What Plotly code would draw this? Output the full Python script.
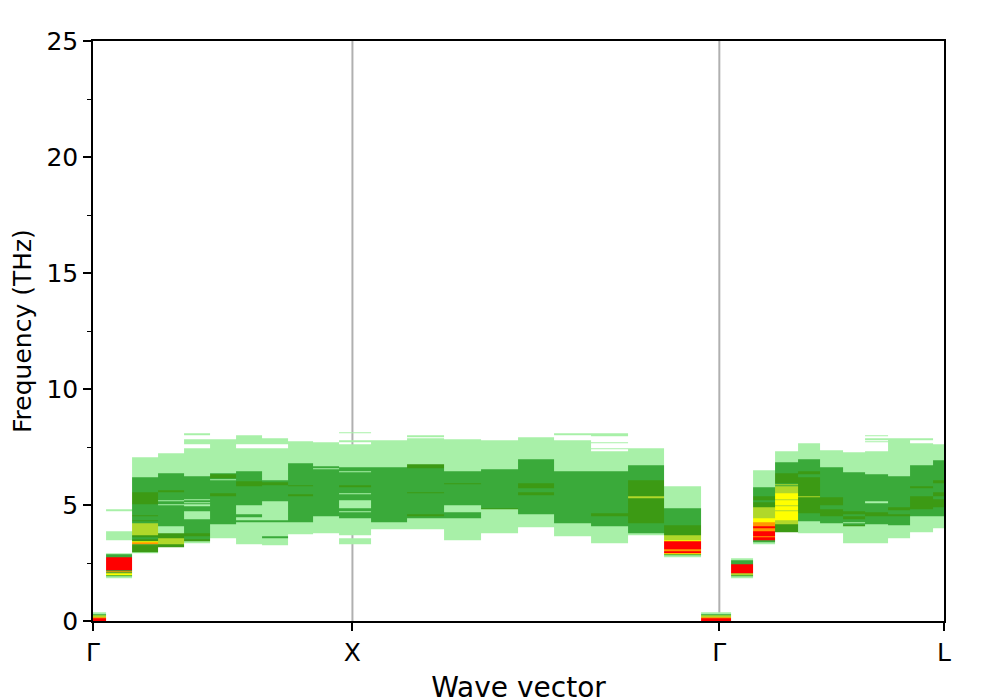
import numpy as np
import plotly.graph_objects as go

# fcc path Gamma-X-Gamma-L, segment lengths in units of 2*pi/a
SEGMENT_LENGTHS = [1.0, np.sqrt(2.0), np.sqrt(3.0) / 2.0]
POINTS_PER_SEGMENT = 10
TICK_LABELS = ["Γ", "X", "Γ", "L"]

# spectral-weight levels, weakest to strongest
LEVEL_COLORS = ["#a8f0a8", "#3aaa3a", "#3c9a14", "#b0d82a", "#ffff00", "#ff9900", "#ff0000"]

FREQ_STEP = 0.04
FREQ_MAX = 9.0

# each column: (low THz, high THz, level); later entries paint over earlier ones
GAMMA_BAND = [(0.0, 0.40, 1), (0.0, 0.30, 2), (0.0, 0.23, 4), (0.0, 0.17, 6), (0.0, 0.12, 7)]

BANDS_GX = [
    GAMMA_BAND,
    [(1.85, 2.93, 1), (1.90, 2.86, 2), (2.20, 2.77, 7), (2.10, 2.17, 6), (1.97, 2.03, 5),
     (3.49, 3.88, 1), (4.70, 4.78, 1)],
    [(2.90, 7.05, 1), (2.95, 6.19, 2), (5.04, 5.57, 3), (4.50, 4.57, 3), (4.30, 4.36, 3),
     (3.71, 4.21, 4), (3.60, 3.68, 3), (3.45, 3.52, 3), (3.38, 3.42, 5), (3.30, 3.38, 6),
     (2.95, 3.28, 3)],
    [(3.17, 7.23, 1), (3.20, 6.37, 2), (5.55, 5.62, 3), (5.15, 5.21, 1), (4.98, 5.04, 1),
     (3.78, 4.07, 1), (3.56, 3.78, 3), (3.30, 3.56, 4), (3.20, 3.30, 3)],
    [(3.35, 7.44, 1), (7.59, 7.83, 1), (8.00, 8.06, 1), (3.42, 6.22, 2), (5.18, 5.23, 1),
     (5.08, 5.12, 1), (4.97, 5.02, 1), (4.38, 4.72, 1), (3.64, 3.78, 3), (3.42, 3.50, 3)],
    [(3.56, 7.84, 1), (4.14, 6.37, 2), (6.15, 6.30, 3), (6.08, 6.13, 1), (5.40, 5.50, 3)],
    [(3.30, 7.44, 1), (7.62, 8.00, 1), (5.00, 6.44, 2), (5.80, 6.02, 3), (4.48, 4.58, 2),
     (4.28, 4.34, 2)],
    [(3.28, 7.44, 1), (7.58, 7.87, 1), (5.15, 6.08, 2), (5.82, 6.00, 3), (4.28, 4.34, 2),
     (3.55, 3.65, 2)],
    [(3.74, 7.76, 1), (4.22, 6.80, 2), (5.78, 5.85, 3), (5.38, 5.46, 3)],
    [(3.78, 7.73, 1), (4.50, 6.55, 2), (6.60, 6.66, 2), (4.22, 4.29, 2)],
    [(8.08, 8.12, 1), (7.70, 7.78, 1), (3.72, 7.61, 1), (3.31, 3.57, 1), (4.43, 6.65, 2),
     (6.38, 6.43, 1), (5.77, 5.83, 3), (5.47, 5.52, 1), (4.86, 5.20, 1), (4.68, 4.73, 1)],
]

BANDS_XG = [
    [(3.95, 7.80, 1), (4.28, 6.65, 2)],
    [(7.92, 8.02, 1), (3.95, 7.87, 1), (4.43, 6.77, 2), (6.60, 6.75, 3), (5.50, 5.56, 3),
     (4.52, 4.58, 3)],
    [(3.49, 7.58, 1), (7.63, 7.84, 1), (5.00, 6.42, 2), (5.87, 5.93, 3), (4.45, 4.66, 2)],
    [(3.78, 7.80, 1), (4.80, 6.55, 2), (4.80, 4.88, 3)],
    [(4.04, 7.92, 1), (4.60, 6.94, 2), (5.72, 5.90, 3), (5.42, 5.57, 3)],
    [(8.00, 8.09, 1), (3.62, 7.80, 1), (4.20, 6.45, 2)],
    [(7.97, 8.06, 1), (7.66, 7.73, 1), (7.38, 7.44, 1), (3.36, 7.32, 1), (4.06, 6.44, 2),
     (4.50, 4.62, 3)],
    [(3.70, 7.44, 1), (3.80, 6.72, 2), (4.18, 6.08, 3), (5.28, 5.39, 4)],
    [(2.75, 5.80, 1), (2.85, 4.86, 2), (3.70, 4.10, 3), (3.48, 3.70, 4), (3.44, 3.48, 5),
     (2.90, 3.44, 7), (3.00, 3.06, 6), (2.88, 2.92, 5)],
    GAMMA_BAND,
]

BANDS_GL = [
    [(1.82, 2.70, 1), (1.92, 2.63, 2), (2.06, 2.45, 7), (1.97, 2.02, 4)],
    [(3.30, 6.51, 1), (3.40, 5.76, 2), (4.93, 5.36, 3), (5.10, 5.18, 2), (4.43, 4.93, 4),
     (4.26, 4.43, 5), (3.88, 4.26, 6), (4.00, 4.06, 7), (3.49, 3.88, 7), (3.60, 3.64, 6)],
    [(3.82, 7.30, 1), (3.82, 6.84, 2), (5.94, 6.37, 3), (5.50, 5.80, 4), (5.82, 5.88, 4),
     (4.35, 5.50, 5), (5.20, 5.25, 4), (4.95, 5.00, 4), (4.70, 4.75, 4), (4.14, 4.35, 4),
     (3.82, 4.14, 3)],
    [(3.80, 7.66, 1), (4.30, 6.94, 2), (4.62, 6.44, 3), (6.20, 6.30, 2), (5.30, 5.38, 4)],
    [(3.78, 7.37, 1), (4.20, 6.65, 2), (5.00, 5.30, 3), (4.52, 4.80, 3)],
    [(3.35, 7.27, 1), (4.08, 6.39, 2), (4.60, 4.70, 3), (4.40, 4.50, 3), (4.20, 4.25, 1),
     (4.08, 4.13, 3)],
    [(7.94, 8.02, 1), (7.80, 7.87, 1), (7.70, 7.76, 1), (3.35, 7.30, 1), (4.14, 6.32, 2),
     (5.09, 5.14, 1), (4.50, 4.68, 3)],
    [(3.56, 7.87, 1), (4.13, 6.22, 2), (4.75, 4.92, 3), (4.50, 4.60, 3)],
    [(7.80, 7.86, 1), (3.85, 7.66, 1), (4.50, 6.72, 2), (5.72, 5.78, 3), (4.79, 5.35, 3)],
    [(4.00, 7.62, 1), (4.50, 6.90, 2), (5.94, 6.08, 3), (5.36, 5.57, 3), (4.93, 5.22, 3)],
]

FONT = "DejaVu Sans"

nodes = np.concatenate([[0.0], np.cumsum(SEGMENT_LENGTHS)])
kdist = [0.0]
for start, end in zip(nodes[:-1], nodes[1:]):
    kdist.extend(np.linspace(start, end, POINTS_PER_SEGMENT + 1)[1:].tolist())

columns = BANDS_GX + BANDS_XG + BANDS_GL
freq = np.arange(FREQ_STEP / 2, FREQ_MAX, FREQ_STEP)
z = [[None] * len(columns) for _ in freq]
for j, bands in enumerate(columns):
    for low, high, level in bands:
        for i, f in enumerate(freq):
            if low <= f < high:
                z[i][j] = level

n_levels = len(LEVEL_COLORS)
colorscale = []
for i, color in enumerate(LEVEL_COLORS):
    colorscale.append([i / n_levels, color])
    colorscale.append([(i + 1) / n_levels, color])

fig = go.Figure(
    go.Heatmap(
        x=kdist,
        y=freq.tolist(),
        z=z,
        zmin=0.5,
        zmax=n_levels + 0.5,
        colorscale=colorscale,
        showscale=False,
        hoverinfo="skip",
    )
)

for x in nodes[1:-1]:
    fig.add_shape(
        type="line", x0=x, x1=x, y0=0, y1=25, xref="x", yref="y",
        line={"color": "#b0b0b0", "width": 2}, layer="below",
    )

# y-axis title placed as an annotation so it sits at the far left like the original
fig.add_annotation(
    text="Frequency (THz)", textangle=-90, showarrow=False,
    xref="paper", yref="paper", x=-0.0835, y=0.5, xanchor="center", yanchor="middle",
    font={"family": FONT, "size": 25, "color": "black"},
)

fig.update_layout(
    width=997,
    height=698,
    margin={"l": 85, "r": 61, "t": 33, "b": 85},
    paper_bgcolor="white",
    plot_bgcolor="white",
    font={"family": FONT, "size": 23, "color": "black"},
    showlegend=False,
)
fig.update_xaxes(
    range=[0, nodes[-1]],
    tickvals=nodes.tolist(),
    ticktext=TICK_LABELS,
    ticks="outside",
    ticklen=8,
    tickwidth=1.5,
    tickcolor="black",
    tickfont={"size": 25},
    showline=True,
    mirror=True,
    linecolor="black",
    linewidth=1.5,
    showgrid=False,
    zeroline=False,
    automargin=False,
    title={"text": "Wave vector", "standoff": 12},
)
fig.update_yaxes(
    range=[0, 25],
    tickvals=[0, 5, 10, 15, 20, 25],
    ticks="outside",
    ticklen=8,
    tickwidth=1.5,
    tickcolor="black",
    tickfont={"size": 25},
    minor={"ticks": "outside", "tickvals": [2.5, 7.5, 12.5, 17.5, 22.5], "ticklen": 4,
           "tickwidth": 1, "tickcolor": "black"},
    showline=True,
    mirror=True,
    linecolor="black",
    linewidth=1.5,
    showgrid=False,
    zeroline=False,
    automargin=False,
)

fig.write_html("out.html")
